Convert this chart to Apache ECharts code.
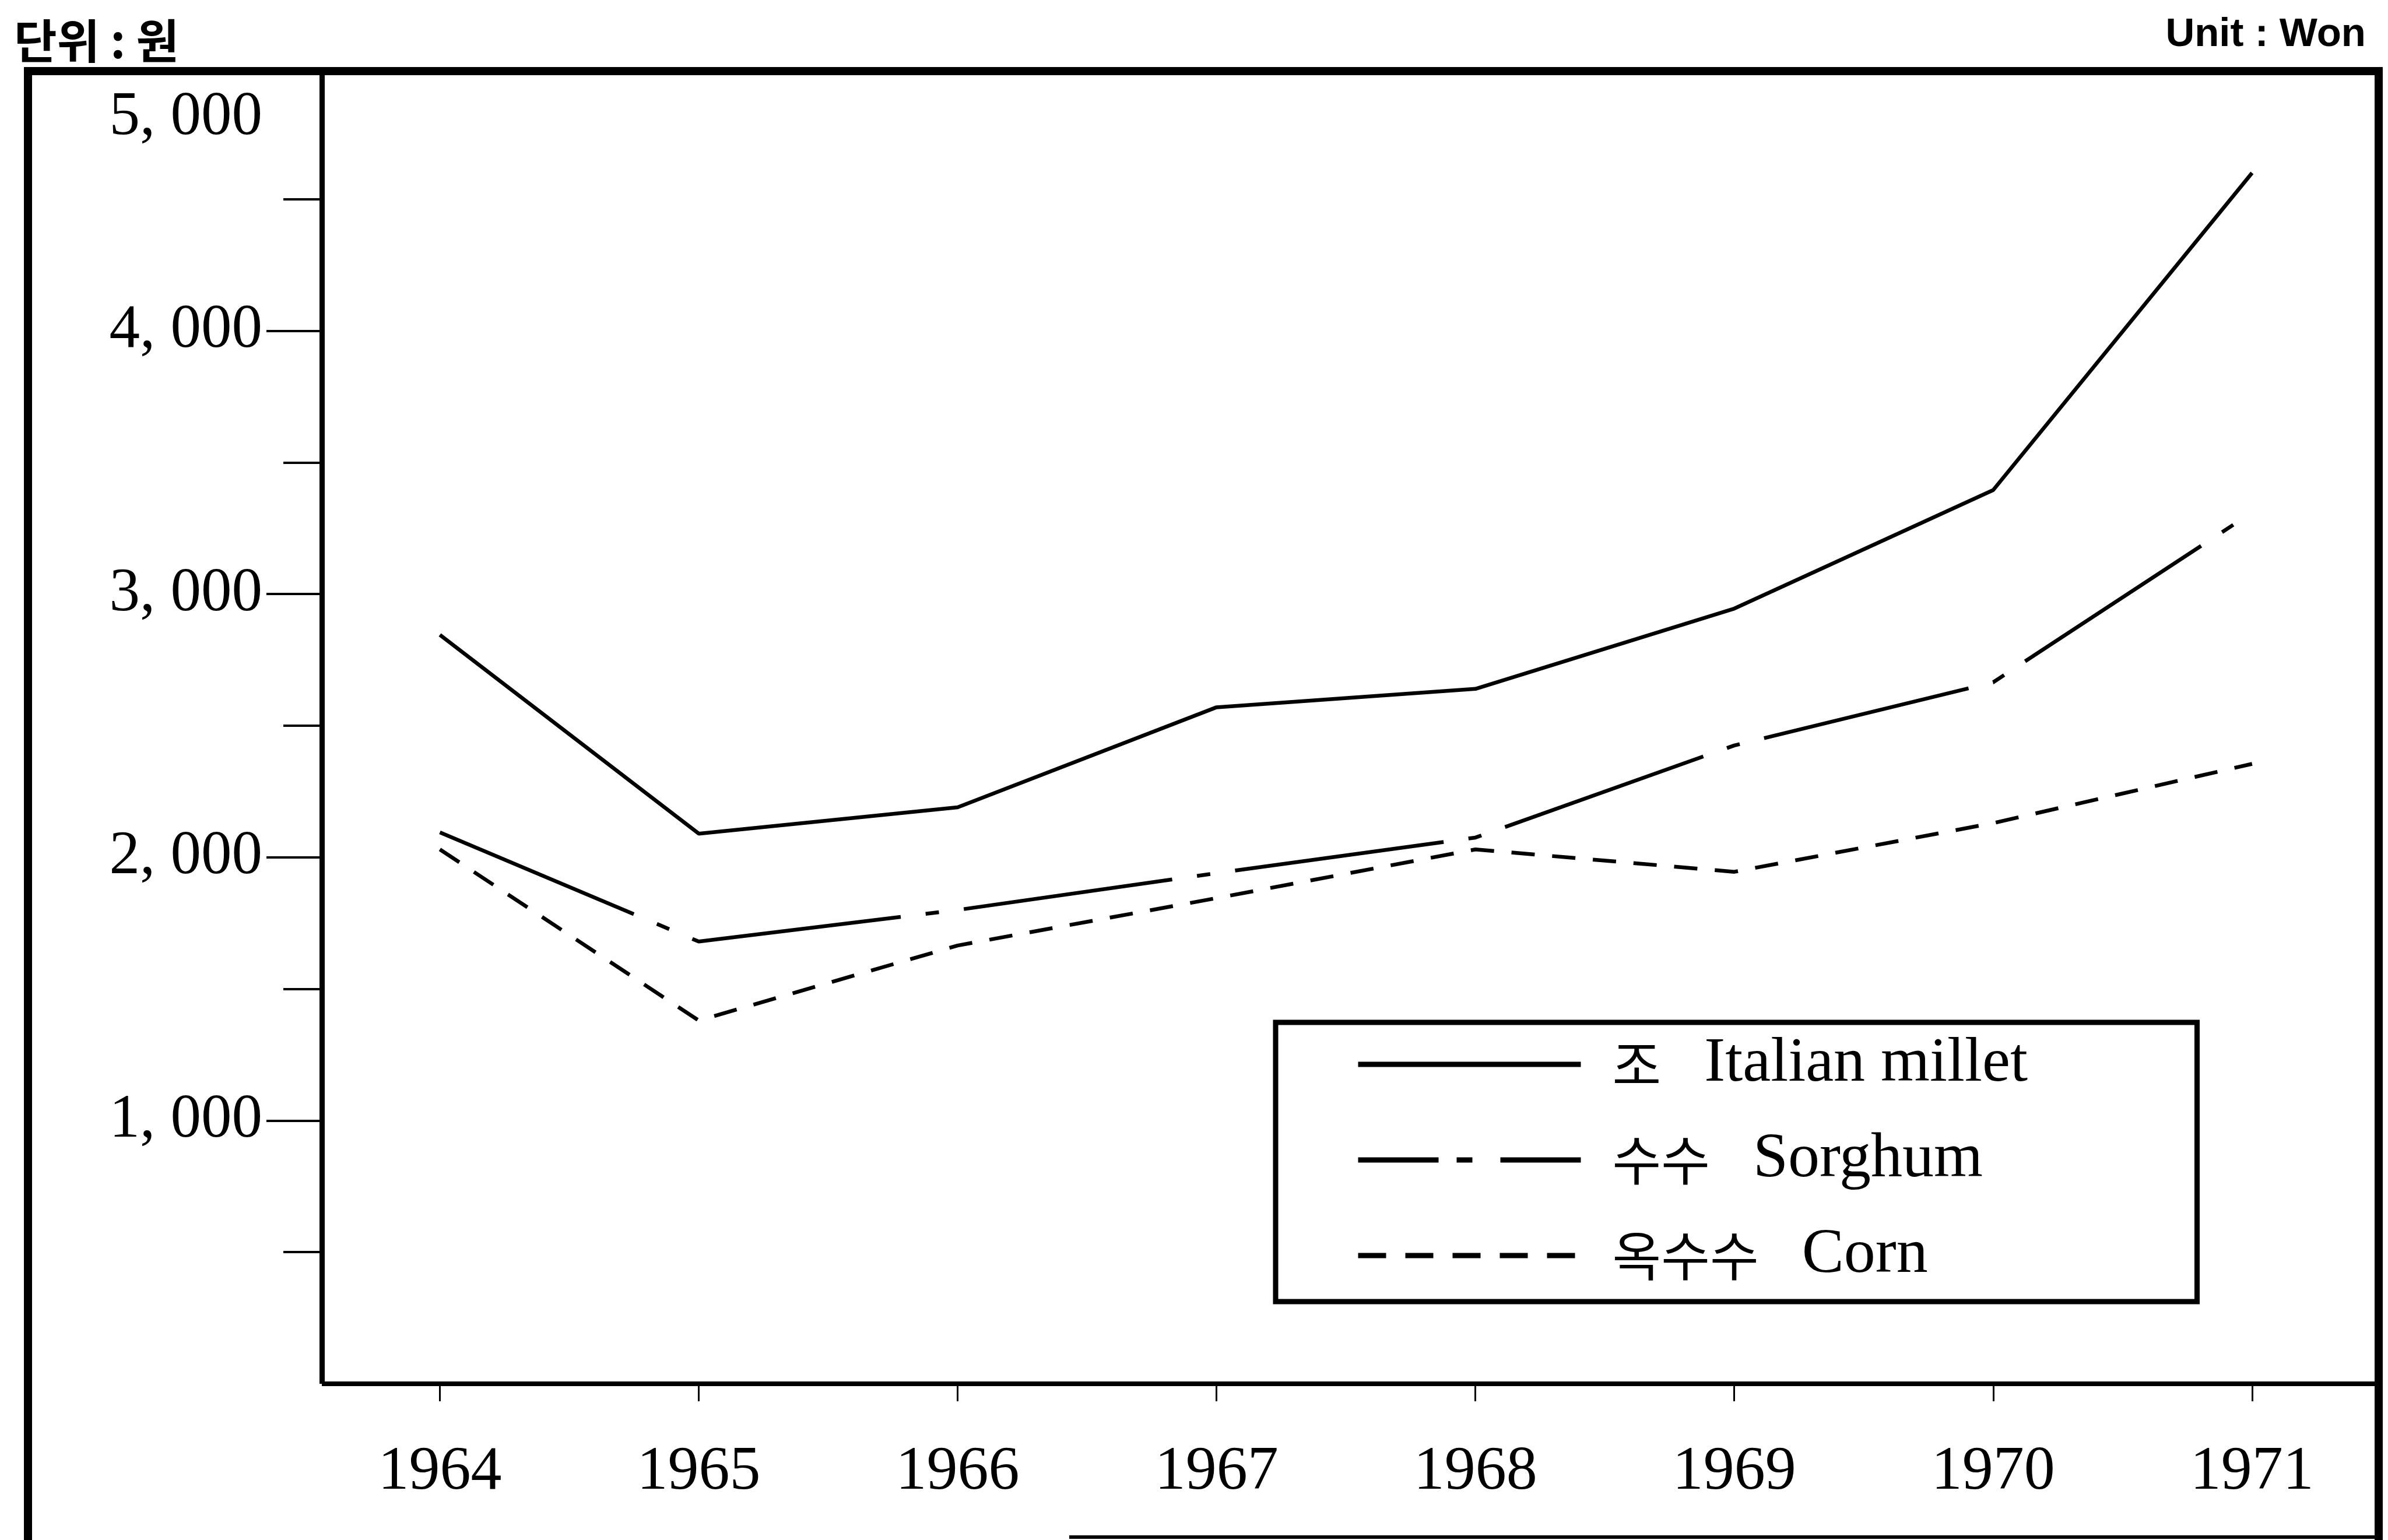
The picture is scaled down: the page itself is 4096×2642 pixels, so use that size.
<!DOCTYPE html>
<html>
<head>
<meta charset="utf-8">
<style>
  html, body { margin: 0; padding: 0; background: #fff; }
  #chart { width: 4096px; height: 2642px; }
</style>
<script src="https://cdn.jsdelivr.net/npm/echarts@6.0.0/dist/echarts.min.js"></script>
</head>
<body>
<div id="chart"></div>
<script>
// Years on the horizontal axis
const years = [1964, 1965, 1966, 1967, 1968, 1969, 1970, 1971];

// Prices in won
const milletPrices  = [2845, 2090, 2190, 2570, 2640, 2945, 3395, 4600];
const sorghumPrices = [2095, 1680, 1800, 1940, 2075, 2425, 2665, 3310];
const cornPrices    = [2030, 1380, 1665, 1845, 2030, 1945, 2130, 2355];

// Series names, Korean and English
const seriesNamesKo = ['조', '수수', '옥수수'];
const seriesNamesEn = ['Italian millet', 'Sorghum', 'Corn'];

// Value-axis labels and ticks
const yLabelValues = [1000, 2000, 3000, 4000, 5000];
const yLabelTexts  = ['1, 000', '2, 000', '3, 000', '4, 000', '5, 000'];
const yMajorTicks  = [1000, 2000, 3000, 4000];
const yMinorTicks  = [500, 1500, 2500, 3500, 4500];

const seriesValues = [milletPrices, sorghumPrices, cornPrices];
const seriesDash = ['solid', [361, 43, 23, 43], [40, 30]];
const legendDash = ['solid', [138, 31, 27, 48], [48, 33]];

const chart = echarts.init(document.getElementById('chart'), null, { renderer: 'canvas' });

const serif = 'Liberation Serif';
const topLabel = yLabelValues[yLabelValues.length - 1];

chart.setOption({
  animation: false,
  backgroundColor: '#fff',
  title: [
    {
      text: '단위 : 원', left: 24, top: 30, padding: 0,
      textStyle: { fontFamily: 'Noto Sans CJK KR', fontSize: 80, lineHeight: 80, fontWeight: 'bold', color: '#000' }
    },
    {
      text: 'Unit : Won', right: 38, top: 25, padding: 0,
      textStyle: { fontFamily: 'Liberation Sans', fontSize: 69, lineHeight: 69, fontWeight: 'bold', color: '#000' }
    }
  ],
  grid: { left: 552, top: 116, width: 3524, height: 2258, containLabel: false, outerBoundsMode: 'none' },
  xAxis: {
    type: 'value', min: 1963.544, max: 1971.48,
    axisLine: { show: true, onZero: false, lineStyle: { color: '#000', width: 8, cap: 'butt' } },
    axisTick: { show: true, customValues: years, length: 30, lineStyle: { color: '#000', width: 3, cap: 'butt' } },
    axisLabel: {
      customValues: years, margin: 99, color: '#000',
      fontFamily: serif, fontSize: 106,
      formatter: v => String(v)
    },
    splitLine: { show: false }
  },
  yAxis: [
    {
      type: 'value', min: 0, max: 5000, position: 'left',
      axisLine: { show: true, lineStyle: { color: '#000', width: 9, cap: 'butt' } },
      axisTick: { show: true, customValues: yMajorTicks, length: 95, lineStyle: { color: '#000', width: 4, cap: 'butt' } },
      axisLabel: {
        customValues: yLabelValues, margin: 102, color: '#000',
        fontFamily: serif, fontSize: 105,
        formatter: v => {
          const t = yLabelTexts[yLabelValues.indexOf(v)];
          // the top label sits just under the frame
          return v === topLabel ? '{top|' + t + '}' : t;
        },
        rich: { top: { fontFamily: serif, fontSize: 105, color: '#000', padding: [172, 0, 0, 0] } }
      },
      splitLine: { show: false }
    },
    {
      type: 'value', min: 0, max: 5000, position: 'left', offset: 0,
      axisLine: { show: false },
      axisTick: { show: true, customValues: yMinorTicks, length: 66, lineStyle: { color: '#000', width: 4, cap: 'butt' } },
      axisLabel: { show: false },
      splitLine: { show: false }
    }
  ],
  legend: {
    orient: 'vertical', left: 2188, top: 1754,
    padding: [18, 52, 25, 137],
    itemGap: 56, itemWidth: 382, itemHeight: 14,
    backgroundColor: '#fff', borderColor: '#000', borderWidth: 9, borderRadius: 0,
    itemStyle: { opacity: 0 },
    selectedMode: false,
    data: seriesNamesEn.map((name, i) => ({
      name: name,
      lineStyle: { width: 9, color: '#000', type: legendDash[i] }
    })),
    formatter: name => {
      const i = seriesNamesEn.indexOf(name);
      return '{ko|' + seriesNamesKo[i] + '}{en|' + name + '}';
    },
    textStyle: {
      width: 1000, lineHeight: 100, color: '#000',
      rich: {
        ko: { fontFamily: 'Noto Sans CJK KR', fontSize: 91, lineHeight: 100, color: '#000', padding: [0, 74, 0, 49] },
        en: { fontFamily: serif, fontSize: 108, lineHeight: 100, color: '#000' }
      }
    }
  },
  series: seriesNamesEn.map((name, i) => ({
    type: 'line',
    name: name,
    yAxisIndex: 0,
    data: years.map((y, j) => [y, seriesValues[i][j]]),
    symbol: 'none',
    silent: true,
    lineStyle: { color: '#000', width: 6.5, type: seriesDash[i] },
    itemStyle: { color: '#000' }
  })),
  graphic: [
    {
      type: 'polyline', z: 100,
      shape: { points: [[48, 2642], [48, 122], [4080, 122], [4080, 2642]] },
      style: { stroke: '#000', lineWidth: 14, fill: null }
    },
    {
      type: 'line', z: 100,
      shape: { x1: 1834, y1: 2637, x2: 4080, y2: 2637 },
      style: { stroke: '#000', lineWidth: 6 }
    }
  ]
});
</script>
</body>
</html>
